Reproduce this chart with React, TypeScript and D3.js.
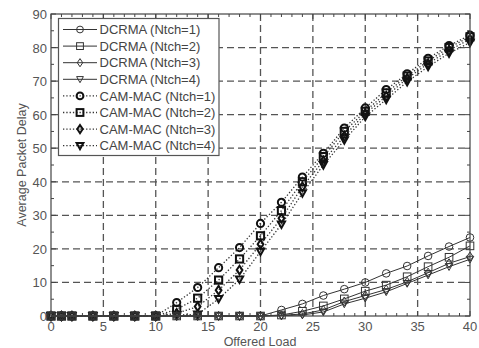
import React from "react";
import * as d3 from "d3";

// Offered load sample points
const loads = [0, 1, 2, 4, 6, 8, 10, 12, 14, 16, 18, 20, 22, 24, 26, 28, 30, 32, 34, 36, 38, 40];

// DCRMA average packet delay
const dcrma1 = [0, 0, 0, 0, 0, 0, 0, 0, 0, 0, 0, 0, 1.8, 3.6, 6.1, 8.0, 10.0, 12.7, 14.9, 17.9, 20.7, 23.4];
const dcrma2 = [0, 0, 0, 0, 0, 0, 0, 0, 0, 0, 0, 0, 0.3, 1.4, 3.0, 5.1, 7.4, 9.2, 11.7, 14.7, 17.5, 20.9];
const dcrma3 = [0, 0, 0, 0, 0, 0, 0, 0, 0, 0, 0, 0, 0.2, 0.6, 1.8, 4.3, 6.1, 7.9, 10.2, 12.9, 15.7, 17.7];
const dcrma4 = [0, 0, 0, 0, 0, 0, 0, 0, 0, 0, 0, 0, 0.1, 0.3, 1.2, 3.6, 5.3, 7.2, 9.7, 12.2, 14.7, 16.9];

// CAM-MAC average packet delay
const cam1 = [0, 0, 0, 0, 0, 0, 0, 4.0, 8.5, 14.4, 20.4, 27.6, 33.9, 41.4, 48.5, 56.0, 62.0, 67.5, 72.2, 76.8, 80.6, 83.7];
const cam2 = [0, 0, 0, 0, 0, 0, 0, 2.0, 5.3, 10.7, 17.0, 23.9, 31.4, 40.0, 47.5, 55.0, 61.0, 66.5, 71.5, 76.0, 80.0, 83.2];
const cam3 = [0, 0, 0, 0, 0, 0, 0, 0.8, 2.8, 7.7, 13.7, 21.4, 29.1, 38.5, 46.2, 53.6, 60.3, 65.5, 70.8, 75.2, 79.2, 82.5];
const cam4 = [0, 0, 0, 0, 0, 0, 0, 0.3, 0.5, 5.1, 10.9, 19.2, 27.3, 36.6, 45.0, 52.4, 59.4, 64.5, 69.8, 74.3, 78.3, 81.5];

const xTicks = [0, 5, 10, 15, 20, 25, 30, 35, 40];
const yTicks = [0, 10, 20, 30, 40, 50, 60, 70, 80, 90];

const legendLabels = [
  "DCRMA (Ntch=1)",
  "DCRMA (Ntch=2)",
  "DCRMA (Ntch=3)",
  "DCRMA (Ntch=4)",
  "CAM-MAC (Ntch=1)",
  "CAM-MAC (Ntch=2)",
  "CAM-MAC (Ntch=3)",
  "CAM-MAC (Ntch=4)",
];

type Shape = "circle" | "square" | "diamond" | "triangle";

const W = 479;
const H = 348;
const left = 51;
const right = 470;
const top = 14;
const bottom = 316;

const x = d3.scaleLinear().domain([0, 40]).range([left, right]);
const y = d3.scaleLinear().domain([0, 90]).range([bottom, top]);

const FONT = "Liberation Sans, Arial, sans-serif";

function Marker({ shape, cx, cy, r, stroke, sw }: { shape: Shape; cx: number; cy: number; r: number; stroke: string; sw: number }) {
  if (shape === "circle") return <circle cx={cx} cy={cy} r={r} fill="none" stroke={stroke} strokeWidth={sw} />;
  if (shape === "square")
    return <rect x={cx - r} y={cy - r} width={2 * r} height={2 * r} fill="none" stroke={stroke} strokeWidth={sw} />;
  if (shape === "diamond")
    return (
      <path
        d={`M${cx},${cy - r * 1.2}L${cx + r * 0.8},${cy}L${cx},${cy + r * 1.2}L${cx - r * 0.8},${cy}Z`}
        fill="none"
        stroke={stroke}
        strokeWidth={sw}
      />
    );
  return (
    <path
      d={`M${cx - r},${cy - r * 0.8}L${cx + r},${cy - r * 0.8}L${cx},${cy + r}Z`}
      fill="none"
      stroke={stroke}
      strokeWidth={sw}
    />
  );
}

const shapes: Shape[] = ["circle", "square", "diamond", "triangle"];

const dcrmaSeries = [dcrma1, dcrma2, dcrma3, dcrma4];
const camSeries = [cam1, cam2, cam3, cam4];

export default function App() {
  const line = d3
    .line<number>()
    .x((_, i) => x(loads[i]))
    .y((v) => y(v));

  const minorX = d3.range(0, 41, 1).filter((v) => v % 5 !== 0);
  const minorY = d3.range(5, 90, 10);

  return (
    <svg width={W} height={H} style={{ position: "absolute", left: 0, top: 0, background: "#fff" }}>
      <rect x={0} y={0} width={W} height={H} fill="#fff" />
      {/* grid */}
      {xTicks.slice(1, -1).map((t) => (
        <line key={"gx" + t} x1={x(t)} x2={x(t)} y1={top} y2={bottom} stroke="#555" strokeWidth={1.3} strokeDasharray="7,4" />
      ))}
      {yTicks.slice(1, -1).map((t) => (
        <line key={"gy" + t} x1={left} x2={right} y1={y(t)} y2={y(t)} stroke="#555" strokeWidth={1.3} strokeDasharray="7,4" />
      ))}
      {/* minor ticks */}
      {minorX.map((t) => (
        <g key={"mx" + t}>
          <line x1={x(t)} x2={x(t)} y1={top} y2={top + 3} stroke="#444" />
          <line x1={x(t)} x2={x(t)} y1={bottom} y2={bottom - 3} stroke="#444" />
        </g>
      ))}
      {minorY.map((t) => (
        <g key={"my" + t}>
          <line x1={left} x2={left + 3} y1={y(t)} y2={y(t)} stroke="#444" />
          <line x1={right} x2={right - 3} y1={y(t)} y2={y(t)} stroke="#444" />
        </g>
      ))}
      {/* major ticks */}
      {xTicks.map((t) => (
        <g key={"tx" + t}>
          <line x1={x(t)} x2={x(t)} y1={top} y2={top + 5} stroke="#444" />
          <line x1={x(t)} x2={x(t)} y1={bottom} y2={bottom - 5} stroke="#444" />
        </g>
      ))}
      {yTicks.map((t) => (
        <g key={"ty" + t}>
          <line x1={left} x2={left + 5} y1={y(t)} y2={y(t)} stroke="#444" />
          <line x1={right} x2={right - 5} y1={y(t)} y2={y(t)} stroke="#444" />
        </g>
      ))}

      {/* CAM-MAC series: dotted lines with bold markers */}
      {camSeries.map((s, k) => (
        <g key={"cam" + k}>
          <path d={line(s) || ""} fill="none" stroke="#333" strokeWidth={1.3} strokeDasharray="1.3,2" />
          {s.map((v, i) => (
            <Marker key={i} shape={shapes[k]} cx={x(loads[i])} cy={y(v)} r={3.6} stroke="#111" sw={2} />
          ))}
        </g>
      ))}

      {/* DCRMA series: solid lines with thin markers */}
      {dcrmaSeries.map((s, k) => (
        <g key={"dc" + k}>
          <path d={line(s) || ""} fill="none" stroke="#333" strokeWidth={1} />
          {s.map((v, i) => (
            <Marker key={i} shape={shapes[k]} cx={x(loads[i])} cy={y(v)} r={3.8} stroke="#333" sw={1} />
          ))}
        </g>
      ))}

      {/* axes frame */}
      <rect x={left} y={top} width={right - left} height={bottom - top} fill="none" stroke="#444" strokeWidth={1.2} />

      {/* tick labels */}
      {xTicks.map((t) => (
        <text key={"lx" + t} x={x(t)} y={331} textAnchor="middle" fontFamily={FONT} fontSize={13} fill="#555">
          {t}
        </text>
      ))}
      {yTicks.map((t) => (
        <text key={"ly" + t} x={47} y={y(t) + 5} textAnchor="end" fontFamily={FONT} fontSize={13} fill="#555">
          {t}
        </text>
      ))}
      <text x={260} y={346} textAnchor="middle" fontFamily={FONT} fontSize={12.5} fill="#555">
        Offered Load
      </text>
      <text
        transform={`translate(26,165) rotate(-90)`}
        textAnchor="middle"
        fontFamily={FONT}
        fontSize={12.5}
        fill="#555"
      >
        Average Packet Delay
      </text>

      {/* legend */}
      <rect x={58.5} y={18.5} width={160.5} height={137} fill="#fff" stroke="#555" strokeWidth={1.2} />
      {legendLabels.map((lab, i) => {
        const ly = 29.5 + i * 16.6;
        const isCam = i >= 4;
        return (
          <g key={"lg" + i}>
            <line
              x1={63}
              x2={97}
              y1={ly}
              y2={ly}
              stroke="#333"
              strokeWidth={isCam ? 1.3 : 1}
              strokeDasharray={isCam ? "1.3,2" : undefined}
            />
            <Marker shape={shapes[i % 4]} cx={80} cy={ly} r={isCam ? 3.4 : 3.4} stroke={isCam ? "#111" : "#333"} sw={isCam ? 2 : 1} />
            <text x={99.5} y={ly + 4.6} fontFamily={FONT} fontSize={13} fill="#444">
              {lab}
            </text>
          </g>
        );
      })}
    </svg>
  );
}
